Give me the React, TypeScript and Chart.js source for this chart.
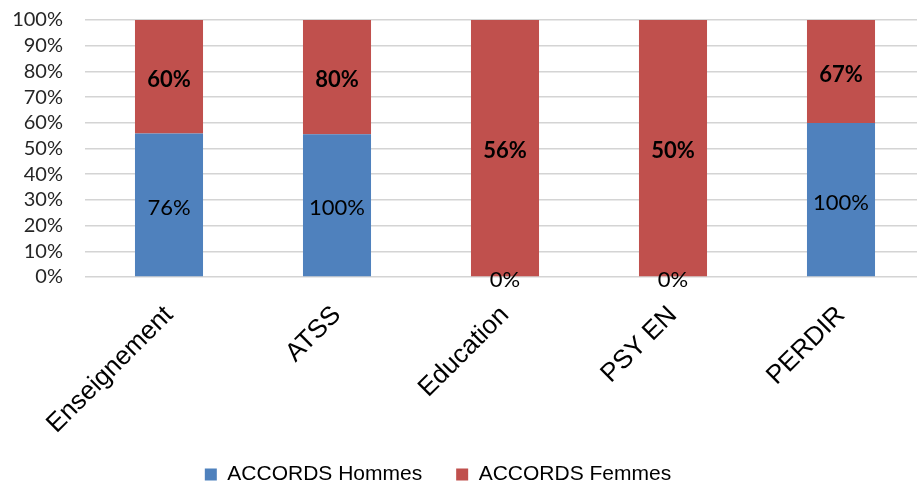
import React, { useEffect, useRef } from 'react';
import { Chart, registerables } from 'chart.js';

Chart.register(...registerables);

const categories = ['Enseignement', 'ATSS', 'Education', 'PSY EN', 'PERDIR'];
const hommesValues = [76, 100, 0, 0, 100];
const femmesValues = [60, 80, 56, 50, 67];
const seriesNames = ['ACCORDS Hommes', 'ACCORDS Femmes'];
const seriesColors = ['#4F81BD', '#C0504D'];

const totals = categories.map((_, i) => hommesValues[i] + femmesValues[i]);
const hommesShare = hommesValues.map((v, i) => (totals[i] ? (v / totals[i]) * 100 : 0));
const femmesShare = femmesValues.map((v, i) => (totals[i] ? (v / totals[i]) * 100 : 0));
const rawSeries = [hommesValues, femmesValues];

const labelFont = 'Lato, "Open Sans", sans-serif';
const axisFont = '"Liberation Sans", Arial, sans-serif';

const valueLabels = {
  id: 'valueLabels',
  afterDatasetsDraw(chart: any) {
    const ctx = chart.ctx;
    chart.data.datasets.forEach((_: any, i: number) => {
      const meta = chart.getDatasetMeta(i);
      meta.data.forEach((el: any, j: number) => {
        const p = el.getProps(['x', 'y', 'base'], true);
        ctx.save();
        ctx.font = (i === 1 ? 'bold ' : '') + '22px ' + labelFont;
        ctx.fillStyle = '#000';
        ctx.textAlign = 'center';
        ctx.textBaseline = 'middle';
        ctx.fillText(rawSeries[i][j] + '%', p.x, (p.y + p.base) / 2 + 3);
        ctx.restore();
      });
    });
  },
};

const legendPlace = {
  id: 'legendPlace',
  afterLayout(chart: any) {
    const lg = chart.legend;
    if (!lg) return;
    const dx = 438 - (lg.left + lg.right) / 2;
    lg.left += dx;
    lg.right += dx;
    lg.top = 430;
    lg.bottom = chart.height;
    lg.height = lg.bottom - lg.top;
  },
};

export default function App() {
  const ref = useRef<HTMLCanvasElement>(null);
  useEffect(() => {
    if (!ref.current) return;
    const chart = new Chart(ref.current, {
      type: 'bar',
      data: {
        labels: categories,
        datasets: [
          {
            label: seriesNames[0],
            data: hommesShare,
            backgroundColor: seriesColors[0],
            categoryPercentage: 1,
            barPercentage: 0.405,
          },
          {
            label: seriesNames[1],
            data: femmesShare,
            backgroundColor: seriesColors[1],
            categoryPercentage: 1,
            barPercentage: 0.405,
          },
        ],
      },
      options: {
        responsive: false,
        animation: false,
        layout: { padding: { left: 0, right: 5, top: 20, bottom: 0 } },
        plugins: {
          legend: {
            position: 'bottom',
            maxHeight: 20,
            labels: {
              boxWidth: 12,
              boxHeight: 12,
              padding: 34,
              color: '#000',
              font: { family: axisFont, size: 21 },
            },
          },
          tooltip: { enabled: false },
        },
        scales: {
          x: {
            stacked: true,
            grid: { display: false, drawTicks: false },
            border: { display: false },
            ticks: {
              minRotation: 45,
              maxRotation: 45,
              autoSkip: false,
              padding: 23,
              color: '#000',
              font: { family: axisFont, size: 26 },
            },
            afterFit(scale: any) {
              scale.height = 189;
            },
          },
          y: {
            stacked: true,
            min: 0,
            max: 100,
            grid: { color: '#d4d4d4', lineWidth: 1.5, drawTicks: false },
            border: { display: false },
            ticks: {
              stepSize: 10,
              autoSkip: false,
              padding: 22,
              color: '#262626',
              font: { family: labelFont, size: 20 },
              callback: (v: any) => v + '%',
            },
            afterFit(scale: any) {
              scale.width = 85;
              scale.paddingTop = 0;
              scale.paddingBottom = 0;
            },
          },
        },
      },
      plugins: [valueLabels, legendPlace],
    });
    return () => chart.destroy();
  }, []);

  return (
    <div style={{ position: 'fixed', left: 0, top: 0, width: 917, height: 486, overflow: 'hidden', background: '#fff' }}>
      <canvas ref={ref} width={930} height={486} style={{ width: 930, height: 486, display: 'block' }} />
    </div>
  );
}
